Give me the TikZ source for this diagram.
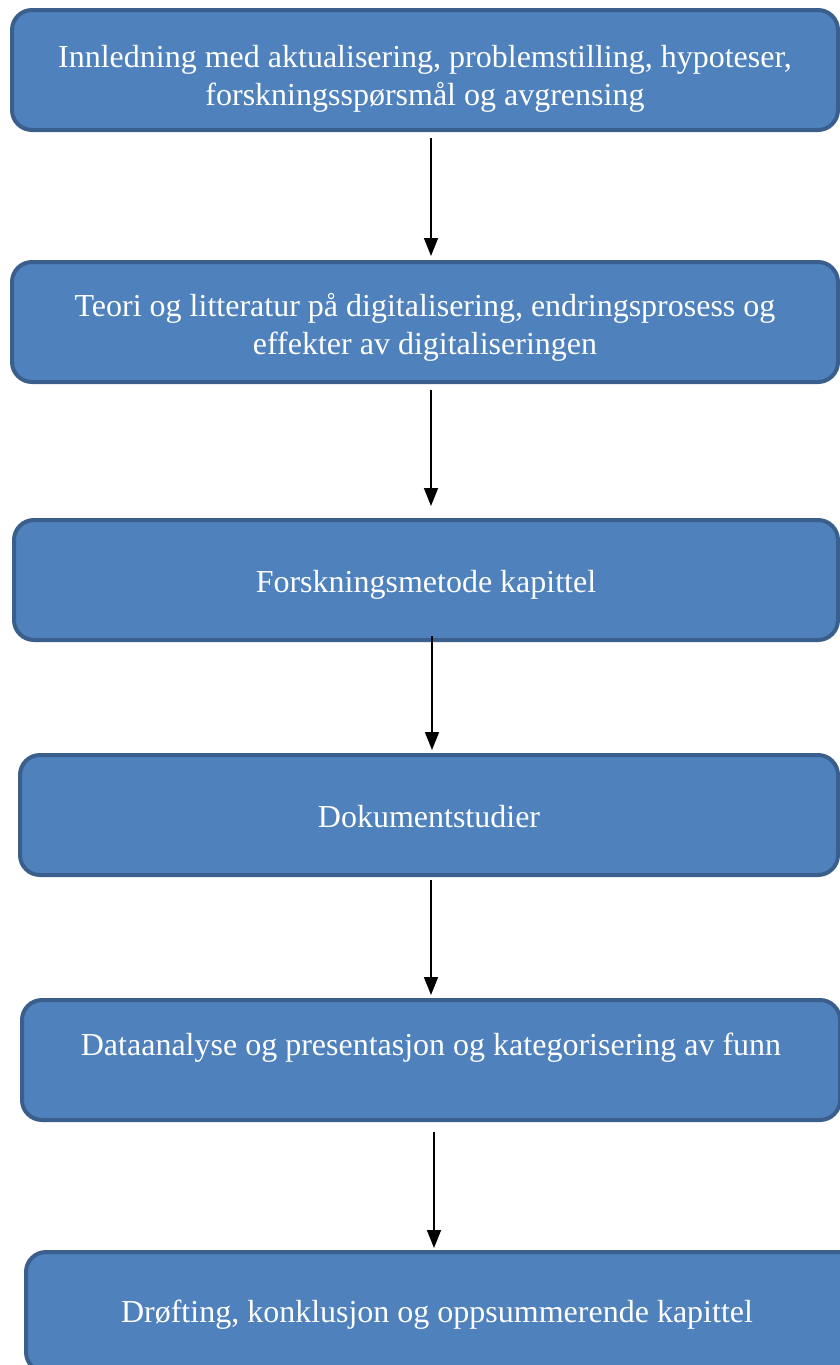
\documentclass[tikz,border=0pt]{standalone}
\usepackage{fontspec}
\setmainfont{Liberation Serif}
\usetikzlibrary{arrows.meta}
\definecolor{boxfill}{HTML}{4F81BD}
\definecolor{boxline}{HTML}{3A5F8C}
\newcommand{\atbase}[2]{\raisebox{#1}[0pt][0pt]{#2}}
\tikzset{
  chapter/.style={draw=boxline, fill=boxfill, line width=4pt, rounded corners=20pt,
    text=white, align=center, font=\fontsize{32}{38}\selectfont, inner sep=0pt,
    minimum height=120pt},
  flow/.style={-{Triangle[width=14pt,length=18pt]}, line width=1.6pt}
}
\begin{document}
\begin{tikzpicture}[x=1pt,y=-1pt]
\useasboundingbox (0,0) rectangle (840,1365);
\node (intro) [chapter, minimum width=826pt] at (425,70)
  {\atbase{-35pt}{\begin{tabular}[b]{@{}c@{}}Innledning med aktualisering, problemstilling, hypoteser,\\forskningsspørsmål og avgrensing\end{tabular}}};
\node (theory) [chapter, minimum width=826pt] at (425,322)
  {\atbase{-32pt}{\begin{tabular}[b]{@{}c@{}}Teori og litteratur på digitalisering, endringsprosess og\\effekter av digitaliseringen\end{tabular}}};
\node (method) [chapter, minimum width=824pt] at (426,580)
  {\atbase{-12pt}{Forskningsmetode kapittel}};
\node (docs) [chapter, minimum width=818pt] at (429,815)
  {\atbase{-12pt}{Dokumentstudier}};
\node (analysis) [chapter, minimum width=818pt] at (431,1060)
  {\atbase{5pt}{Dataanalyse og presentasjon og kategorisering av funn}};
\node (discuss) [chapter, minimum width=836pt] at (444,1312)
  {\hspace{-14pt}\atbase{-10pt}{Drøfting, konklusjon og oppsummerende kapittel}};
\draw [flow] ([xshift=6pt,yshift=-6pt]intro.south) -- ([xshift=6pt,yshift=4pt]theory.north);
\draw [flow] ([xshift=6pt,yshift=-6pt]theory.south) -- ([xshift=5pt,yshift=12pt]method.north);
\draw [flow] ([xshift=6pt,yshift=6pt]method.south) -- ([xshift=3pt,yshift=3pt]docs.north);
\draw [flow] ([xshift=2pt,yshift=-3pt]docs.south) -- ([xshift=0pt,yshift=3pt]analysis.north);
\draw [flow] ([xshift=3pt,yshift=-10pt]analysis.south) -- ([xshift=-10pt,yshift=2pt]discuss.north);
\end{tikzpicture}
\end{document}
